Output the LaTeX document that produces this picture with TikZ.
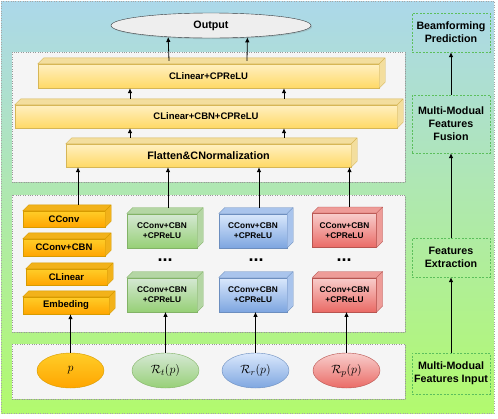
\documentclass[tikz,border=0pt]{standalone}
\usepackage{amsmath}
\usepackage{amssymb}
\usepackage{fontspec}
\setmainfont{Liberation Sans}
\usepackage{tikz}
\usetikzlibrary{arrows.meta,shapes,positioning,shapes.geometric,shadows}
\usepackage{xcolor}
\definecolor{bgtop}{HTML}{ACD8EA}
\definecolor{bgmid}{HTML}{B0E8B2}
\definecolor{bgbot}{HTML}{B2FA6E}
\definecolor{pnl}{HTML}{F5F5F5}
\definecolor{ytop}{HTML}{FFF0C2}
\definecolor{ybot}{HTML}{FFD966}
\definecolor{ydraw}{HTML}{D6B656}
\definecolor{yside}{HTML}{F3DE9E}
\definecolor{otop}{HTML}{FFCD28}
\definecolor{obot}{HTML}{FFA500}
\definecolor{odraw}{HTML}{D79B00}
\definecolor{oside}{HTML}{F2B21A}
\definecolor{gtop}{HTML}{D5E8D4}
\definecolor{gbot}{HTML}{97D077}
\definecolor{gdraw}{HTML}{82B366}
\definecolor{gside}{HTML}{B4D6A4}
\definecolor{btop}{HTML}{DAE8FC}
\definecolor{bbot}{HTML}{7EA6E0}
\definecolor{bdraw}{HTML}{6C8EBF}
\definecolor{bside}{HTML}{A9C4EC}
\definecolor{rtop}{HTML}{F8CECC}
\definecolor{rbot}{HTML}{EA6B66}
\definecolor{rdraw}{HTML}{B85450}
\definecolor{rside}{HTML}{EE9C98}
\definecolor{wfill}{HTML}{EEEEEE}
\definecolor{wdraw}{HTML}{36393D}
\definecolor{tagc}{HTML}{5CBF5C}
\tikzset{
blk/.style = {align=center, inner sep=0pt, text centered, font=\bfseries},
lay_y/.style = {blk, rectangle, draw=ydraw, top color=ytop, bottom color=ybot, minimum height=23pt, font=\bfseries\fontsize{9.5}{11}\selectfont},% couche jaune
cub_o/.style = {blk, rectangle, draw=odraw, top color=otop, bottom color=obot, font=\bfseries\fontsize{9.5}{11}\selectfont},% bloc orange
cub_g/.style = {blk, rectangle, draw=gdraw, top color=gtop, bottom color=gbot, minimum width=70pt, minimum height=34pt, font=\bfseries\fontsize{8.3}{10}\selectfont},% bloc vert
cub_b/.style = {blk, rectangle, draw=bdraw, top color=btop, bottom color=bbot, minimum width=68pt, minimum height=34pt, font=\bfseries\fontsize{8.3}{10}\selectfont},% bloc bleu
cub_r/.style = {blk, rectangle, draw=rdraw, top color=rtop, bottom color=rbot, minimum width=64pt, minimum height=34pt, font=\bfseries\fontsize{8.3}{10}\selectfont},% bloc rouge
side_y/.style = {fill=yside, draw=ydraw},
side_o/.style = {fill=oside, draw=odraw},
side_g/.style = {fill=gside, draw=gdraw},
side_b/.style = {fill=bside, draw=bdraw},
side_r/.style = {fill=rside, draw=rdraw},
ell/.style = {ellipse, inner sep=0pt, minimum width=67pt, minimum height=35pt, font=\fontsize{13}{13}\selectfont},
ell_w/.style = {ell, draw=wdraw, fill=wfill, font=\bfseries\fontsize{10.7}{12}\selectfont, drop shadow={opacity=0.25, shadow xshift=1.2pt, shadow yshift=-1.2pt}},% sortie
ell_o/.style = {ell, draw=odraw, top color=otop, bottom color=obot},
ell_g/.style = {ell, draw=gdraw, top color=gtop, bottom color=gbot},
ell_b/.style = {ell, draw=bdraw, top color=btop, bottom color=bbot},
ell_r/.style = {ell, draw=rdraw, top color=rtop, bottom color=rbot},
dots/.style = {inner sep=0pt, font=\bfseries\fontsize{18}{18}\selectfont},
tag/.style = {rectangle, draw=tagc, dash pattern=on 2pt off 1.5pt, minimum width=78pt, align=center, inner sep=0pt, font=\bfseries\fontsize{10.7}{13}\selectfont},% etiquette droite
panel/.style = {fill=pnl, draw=gray!80, dotted, drop shadow={opacity=0.25, shadow xshift=1.2pt, shadow yshift=-1.2pt}},
arr/.style = {-{Latex[length=5pt,width=4.5pt]}, line width=0.8pt}
}
% faces du dessus et de droite d'un bloc
\newcommand{\cubeside}[2]{\filldraw[#2] (#1.north west) -- ++(6pt,6pt) -- ([shift={(6pt,6pt)}]#1.north east) -- ([shift={(6pt,6pt)}]#1.south east) -- (#1.south east) -- (#1.north east) -- cycle (#1.north east) -- ++(6pt,6pt);}

\begin{document}
\begin{tikzpicture}[x=1pt, y=-1pt]
	\useasboundingbox (0,0) rectangle (498,418);
	\shadedraw [top color=bgtop, middle color=bgmid, bottom color=bgbot, draw=gray!70, dotted] (1,1) rectangle (494,413);
	\path [panel] (12,52) rectangle (405,182);
	\path [panel] (12,195) rectangle (405,332);
	\path [panel] (12,344) rectangle (405,399);
	% fusion
	\node [ell_w, minimum width=200pt, minimum height=25pt] (out) at (211,25.5) {Output};
	\node [lay_y, minimum width=341pt, minimum height=24pt] (lin1) at (208.5,76) {CLinear+CPReLU};
	\node [lay_y, minimum width=382pt] (lin2) at (206,116.5) {CLinear+CBN+CPReLU};
	\node [lay_y, minimum width=285pt, font=\bfseries\fontsize{10.8}{12}\selectfont] (flat) at (208.5,155.5) {Flatten\&CNormalization};
	% extraction
	\node [cub_o, minimum width=82pt, minimum height=16pt] (conv) at (64,219) {CConv};
	\node [cub_o, minimum width=82pt, minimum height=17pt] (convbn) at (64,247.5) {CConv+CBN};
	\node [cub_o, minimum width=81pt, minimum height=16pt] (clin) at (66.5,277) {CLinear};
	\node [cub_o, minimum width=86pt, minimum height=17pt] (emb) at (66,305.5) {Embeding};
	\node [cub_g] (g1) at (162,230.7) {CConv+CBN\\+CPReLU};
	\node [cub_g] (g2) at (162,294.7) {CConv+CBN\\+CPReLU};
	\node [cub_b] (b1) at (253,230.7) {CConv+CBN\\+CPReLU};
	\node [cub_b] (b2) at (253,294.7) {CConv+CBN\\+CPReLU};
	\node [cub_r] (r1) at (344.5,230.2) {CConv+CBN\\+CPReLU};
	\node [cub_r] (r2) at (344.5,294.7) {CConv+CBN\\+CPReLU};
	\node [dots] (d1) at (165,260) {...};
	\node [dots] (d2) at (256,260) {...};
	\node [dots] (d3) at (344,260) {...};
	\foreach \n/\s in {lin1/side_y, lin2/side_y, flat/side_y, conv/side_o, convbn/side_o, clin/side_o, emb/side_o, g1/side_g, g2/side_g, b1/side_b, b2/side_b, r1/side_r, r2/side_r}
		{\cubeside{\n}{\s}}
	% entrees
	\node [ell_o] (p) at (70.5,370.5) {$p$};
	\node [ell_g] (rt) at (165.5,370.5) {$\mathcal{R}_t(p)$};
	\node [ell_b] (rr) at (255.5,370.5) {$\mathcal{R}_r(p)$};
	\node [ell_r] (rp) at (346.5,370.5) {$\mathcal{R}_p(p)$};
	% colonne de droite
	\node [tag, minimum height=39pt] (pred) at (451,32.5) {Beamforming\\Prediction};
	\node [tag, minimum height=58pt] (fus) at (451,124) {Multi-Modual\\Features\\Fusion};
	\node [tag, minimum height=39pt] (ext) at (451,257.5) {Features\\Extraction};
	\node [tag, minimum height=41pt] (inp) at (451,373.5) {Multi-Modual\\Features Input};
	% fleches
	\draw [arr] ([shift={(-39.5pt,3pt)}]lin1.north) -- (out.195);
	\draw [arr] ([shift={(38.5pt,3pt)}]lin1.north) -- (out.342);
	\draw [arr] ([shift={(-76pt,6pt)}]lin2.north) -- ([xshift=-78.5pt]lin1.south);
	\draw [arr] ([shift={(78pt,6pt)}]lin2.north) -- ([xshift=75.5pt]lin1.south);
	\draw [arr] ([shift={(-78.5pt,6pt)}]flat.north) -- ([xshift=-76pt]lin2.south);
	\draw [arr] ([shift={(75.5pt,6pt)}]flat.north) -- ([xshift=78pt]lin2.south);
	\draw [arr] ([shift={(14pt,6pt)}]conv.north) -- ([xshift=-130.5pt]flat.south);
	\draw [arr] ([shift={(6pt,6pt)}]g1.north) -- ([xshift=-40.5pt]flat.south);
	\draw [arr] ([shift={(6pt,6pt)}]b1.north) -- ([xshift=50.5pt]flat.south);
	\draw [arr] ([shift={(5pt,6pt)}]r1.north) -- ([xshift=141pt]flat.south);
	\draw [arr] (p.north) -- ([xshift=4.5pt]emb.south);
	\draw [arr] (rt.north) -- ([xshift=3.5pt]g2.south);
	\draw [arr] (rr.north) -- ([xshift=2.5pt]b2.south);
	\draw [arr] (rp.north) -- ([xshift=2pt]r2.south);
	\draw [arr] (inp) -- (ext);
	\draw [arr] (ext) -- (fus);
	\draw [arr] (fus) -- (pred);
\end{tikzpicture}
\end{document}
